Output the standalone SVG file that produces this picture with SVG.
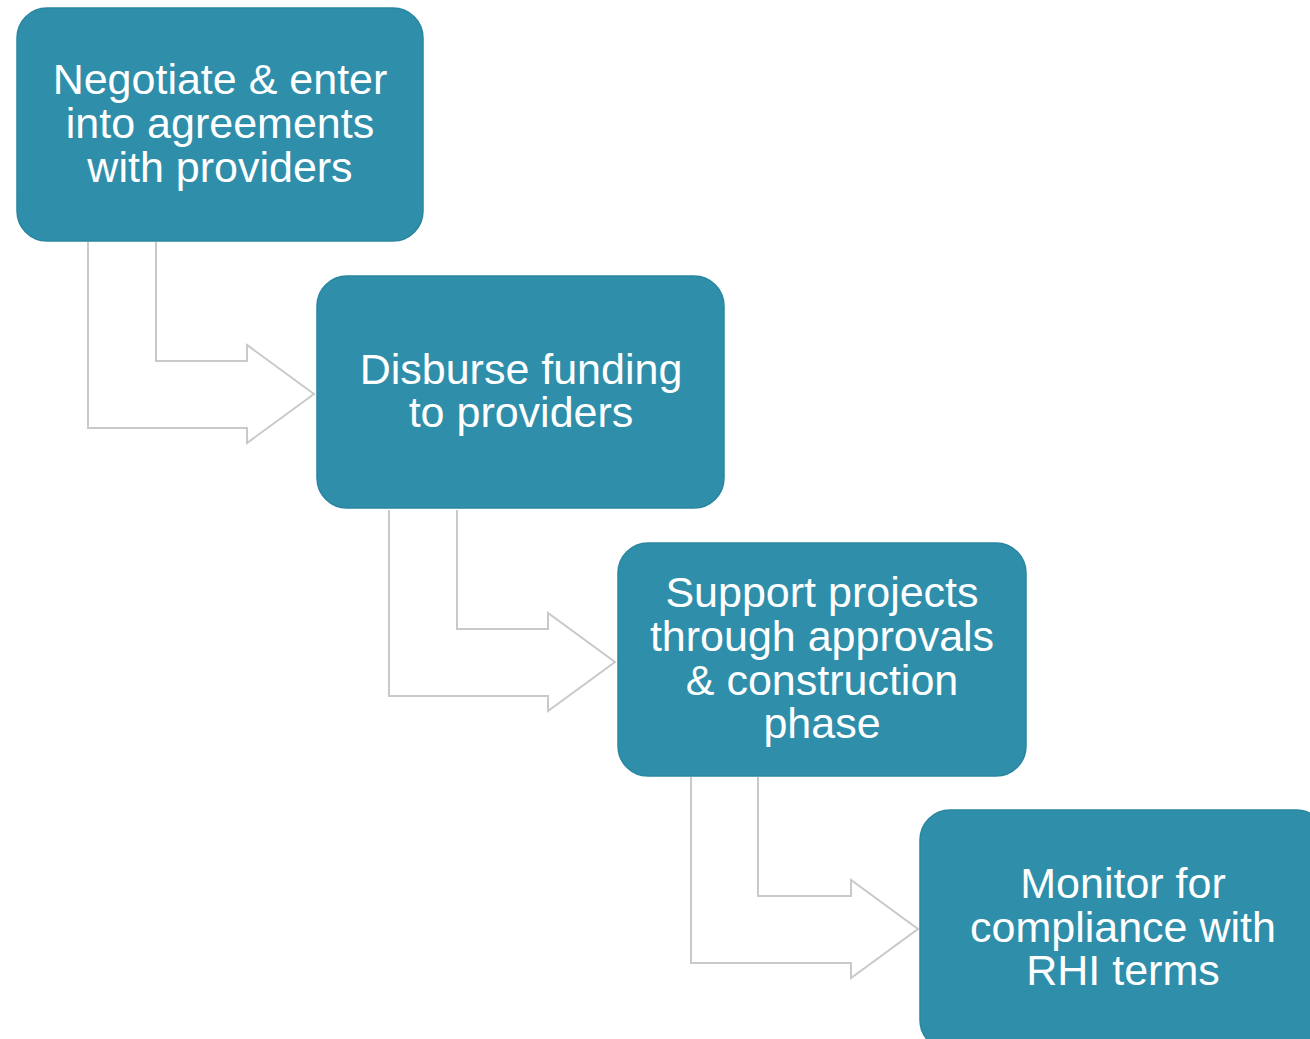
<svg xmlns="http://www.w3.org/2000/svg" width="1310" height="1039" viewBox="0 0 1310 1039">
<style>
.box{fill:#2F8FAB;stroke:#2A86A0;stroke-width:1.5}
.lbl{font-family:"Liberation Sans",Arial,sans-serif;font-size:43px;fill:#ffffff;text-anchor:middle}
.conn{fill:none;stroke:#c9c9c9;stroke-width:2;stroke-linejoin:miter}
</style>
<rect width="1310" height="1039" fill="#ffffff"/>
<g id="connectors">
<path class="conn" d="M88,242 V428 H247 V443 L314,394 L247,345 V361 H156 V242"/>
<path class="conn" d="M389,510 V696 H548 V711 L615,662 L548,613 V629 H457 V510"/>
<path class="conn" d="M691,777 V963 H851 V978 L918,929 L851,880 V896 H758 V777"/>
</g>
<g id="node1">
<rect class="box" x="17" y="8" width="406" height="233" rx="30"/>
<text class="lbl" x="220" y="94">Negotiate &amp; enter</text>
<text class="lbl" x="220" y="138">into agreements</text>
<text class="lbl" x="220" y="182">with providers</text>
</g>
<g id="node2">
<rect class="box" x="317" y="276" width="407" height="232" rx="30"/>
<text class="lbl" x="521" y="384">Disburse funding</text>
<text class="lbl" x="521" y="427">to providers</text>
</g>
<g id="node3">
<rect class="box" x="618" y="543" width="408" height="233" rx="30"/>
<text class="lbl" x="822" y="607">Support projects</text>
<text class="lbl" x="822" y="651">through approvals</text>
<text class="lbl" x="822" y="695">&amp; construction</text>
<text class="lbl" x="822" y="738">phase</text>
</g>
<g id="node4">
<rect class="box" x="920" y="810" width="406" height="240" rx="30"/>
<text class="lbl" x="1123" y="898">Monitor for</text>
<text class="lbl" x="1123" y="942">compliance with</text>
<text class="lbl" x="1123" y="985">RHI terms</text>
</g>
</svg>
